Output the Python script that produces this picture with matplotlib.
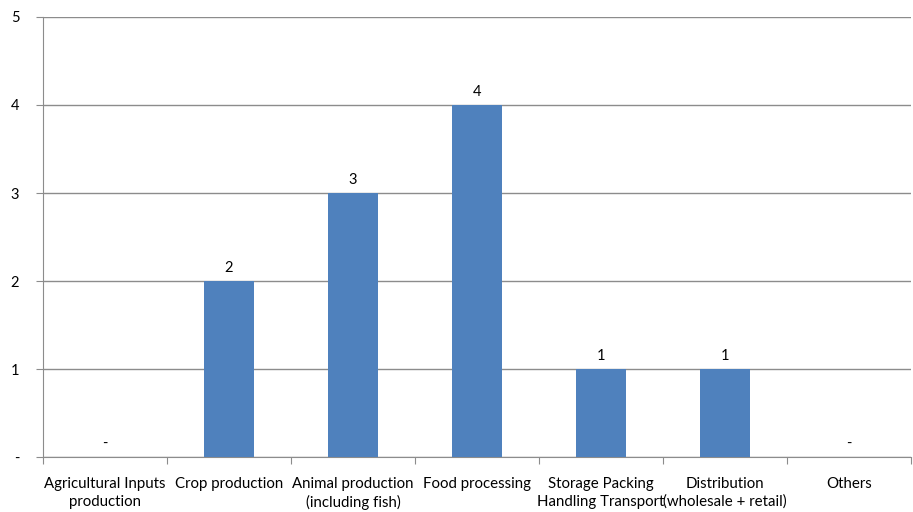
import matplotlib.pyplot as plt
import numpy as np

# Datos
categorias = ['Agricultural Inputs\nproduction', 'Crop production',
              'Animal production\n(including fish)', 'Food processing',
              'Storage Packing\nHandling Transport', 'Distribution\n(wholesale + retail)',
              'Others']
valores = [0, 2, 3, 4, 1, 1, 0]
y_ticks = [0, 1, 2, 3, 4, 5]
y_labels = ['-', '1', '2', '3', '4', '5']

plt.rcParams['font.family'] = ['Lato', 'DejaVu Sans']

fig = plt.figure(figsize=(9.13, 5.12), dpi=100)
ax = fig.add_axes([0.047, 0.107, 0.951, 0.86])

x = np.arange(len(categorias))
ax.bar(x, valores, width=0.4, color='#4F81BD', zorder=3)

# Etiquetas de datos
for xi, v in zip(x, valores):
    txt = '-' if v == 0 else str(v)
    ax.text(xi, v + 0.07, txt, ha='center', va='bottom', fontsize=10.5, color='#000000')

ax.set_xlim(-0.5, len(categorias) - 0.5)
ax.set_ylim(0, 5)
ax.set_yticks(y_ticks)
ax.set_yticklabels(y_labels, fontsize=10.5)
ax.yaxis.grid(True, color='#8c8c8c', linewidth=1, zorder=0)

# Marcas entre categorias, etiquetas centradas
ax.set_xticks(np.arange(-0.5, len(categorias), 1.0))
ax.set_xticklabels([])
ax.set_xticks(x, minor=True)
ax.set_xticklabels(categorias, minor=True, fontsize=10.8, linespacing=1.35)
ax.tick_params(axis='x', which='minor', length=0, pad=14)
ax.tick_params(axis='x', which='major', length=5, color='#8c8c8c')
ax.tick_params(axis='y', length=5, color='#8c8c8c', pad=12)

for s in ['top', 'right']:
    ax.spines[s].set_visible(False)
for s in ['left', 'bottom']:
    ax.spines[s].set_color('#8c8c8c')

fig.savefig('out.png', dpi=100)
